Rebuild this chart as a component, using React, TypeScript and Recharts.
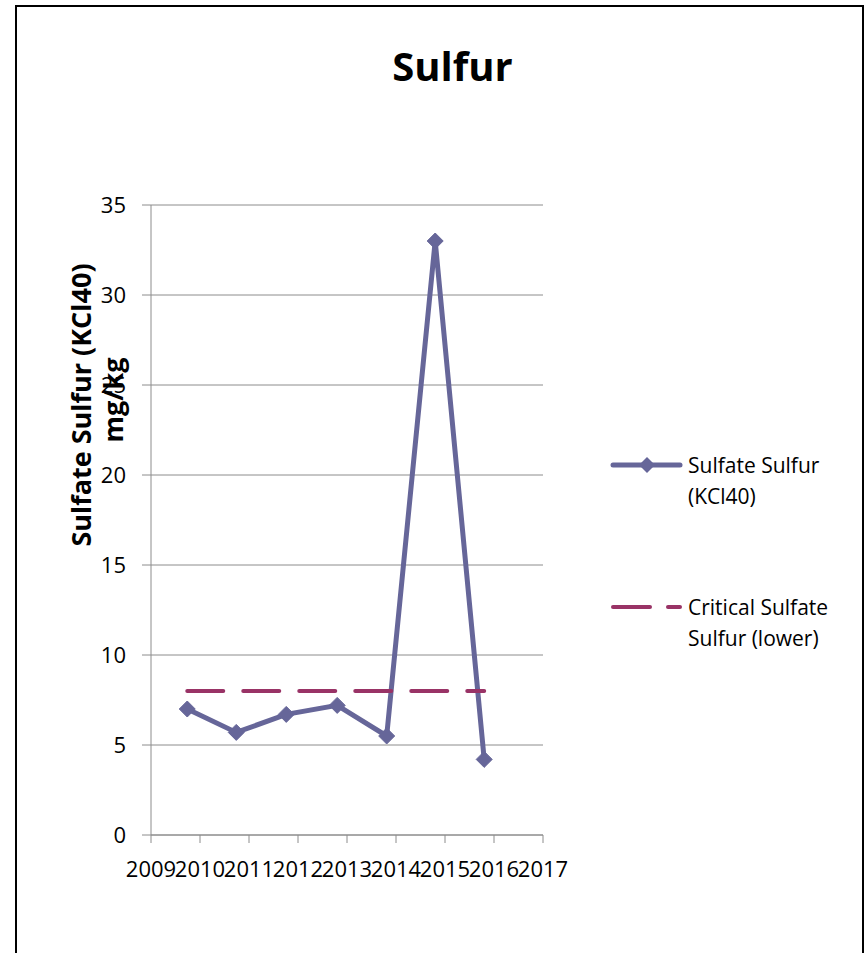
import { LineChart, Line, XAxis, YAxis, CartesianGrid } from 'recharts'

// sample dates (fractional year) and values
const years = [2009.74, 2010.74, 2011.76, 2012.8, 2013.81, 2014.8, 2015.8]
const sulfate = [7.0, 5.7, 6.7, 7.2, 5.5, 33.0, 4.2]
const critical = [8, 8, 8, 8, 8, 8, 8]
const xTicks = [2009, 2010, 2011, 2012, 2013, 2014, 2015, 2016, 2017]
const yTicks = [0, 5, 10, 15, 20, 25, 30, 35]

const SULFATE_COLOR = '#666699'
const CRITICAL_COLOR = '#993366'
const FONT = '"Open Sans", "Noto Sans", sans-serif'

const data = years.map((year, i) => ({ year, sulfate: sulfate[i], critical: critical[i] }))

function Diamond({ cx, cy }: { cx?: number; cy?: number }) {
  if (cx == null || cy == null) return null
  const r = 8
  return (
    <polygon
      points={`${cx},${cy - r} ${cx + r},${cy} ${cx},${cy + r} ${cx - r},${cy}`}
      fill={SULFATE_COLOR}
      stroke={SULFATE_COLOR}
      strokeWidth={1}
    />
  )
}

function YLabel() {
  return (
    <g fontFamily={FONT} fontWeight="bold" fontSize={27} fill="#000">
      <text x={80} y={405} transform="rotate(-90 80 405)" textAnchor="middle" dominantBaseline="central">
        Sulfate Sulfur (KCl40)
      </text>
      <text x={112} y={400} transform="rotate(-90 112 400)" textAnchor="middle" dominantBaseline="central">
        mg/kg
      </text>
    </g>
  )
}

function LegendBox() {
  const textStyle = { fontFamily: FONT, fontSize: 21, fill: '#000' }
  return (
    <svg width={260} height={220} style={{ position: 'absolute', left: 610, top: 450, overflow: 'visible' }}>
      <line x1={3} y1={15} x2={70} y2={15} stroke={SULFATE_COLOR} strokeWidth={5} strokeLinecap="round" />
      <polygon points="37,7 45,15 37,23 29,15" fill={SULFATE_COLOR} />
      <text x={78} y={15} dominantBaseline="central" style={textStyle}>Sulfate Sulfur</text>
      <text x={78} y={46} dominantBaseline="central" style={textStyle}>(KCl40)</text>

      <line x1={3} y1={157} x2={40} y2={157} stroke={CRITICAL_COLOR} strokeWidth={4} strokeLinecap="round" />
      <line x1={58} y1={157} x2={70} y2={157} stroke={CRITICAL_COLOR} strokeWidth={4} strokeLinecap="round" />
      <text x={78} y={157} dominantBaseline="central" style={textStyle}>Critical Sulfate</text>
      <text x={78} y={188} dominantBaseline="central" style={textStyle}>Sulfur (lower)</text>
    </svg>
  )
}

export default function App() {
  return (
    <div style={{ position: 'absolute', left: 0, top: 0, width: 868, height: 953, overflow: 'hidden', background: '#fff' }}>
      <div
        style={{
          position: 'absolute',
          left: 15,
          top: 5,
          width: 845,
          height: 1000,
          border: '2px solid #000',
        }}
      />
      <div
        style={{
          position: 'absolute',
          left: 0,
          top: 38,
          width: 905,
          textAlign: 'center',
          fontFamily: FONT,
          fontWeight: 'bold',
          fontSize: 40,
          color: '#000',
        }}
      >
        Sulfur
      </div>
      <div style={{ position: 'absolute', left: 0, top: 0 }}>
        <LineChart width={868} height={953} data={data} margin={{ top: 205, right: 325, bottom: 78, left: 91 }}>
          <CartesianGrid horizontal vertical={false} stroke="#8c8c8c" />
          <XAxis
            dataKey="year"
            type="number"
            domain={[2009, 2017]}
            ticks={xTicks}
            interval={0}
            height={40}
            stroke="#8c8c8c"
            tickSize={8}
            tickMargin={18}
            tick={{ fill: '#000', fontSize: 22, fontFamily: FONT }}
            allowDecimals={false}
          />
          <YAxis
            type="number"
            domain={[0, 35]}
            ticks={yTicks}
            interval={0}
            width={60}
            stroke="#8c8c8c"
            tickSize={9}
            tickMargin={16}
            tick={{ fill: '#000', fontSize: 22, fontFamily: FONT }}
            label={<YLabel />}
          />
          <Line
            dataKey="sulfate"
            name="Sulfate Sulfur (KCl40)"
            stroke={SULFATE_COLOR}
            strokeWidth={5}
            dot={<Diamond />}
            activeDot={false}
            isAnimationActive={false}
          />
          <Line
            dataKey="critical"
            name="Critical Sulfate Sulfur (lower)"
            stroke={CRITICAL_COLOR}
            strokeWidth={4}
            strokeDasharray="36 20"
            strokeLinecap="round"
            dot={false}
            activeDot={false}
            isAnimationActive={false}
          />
        </LineChart>
      </div>
      <LegendBox />
    </div>
  )
}
